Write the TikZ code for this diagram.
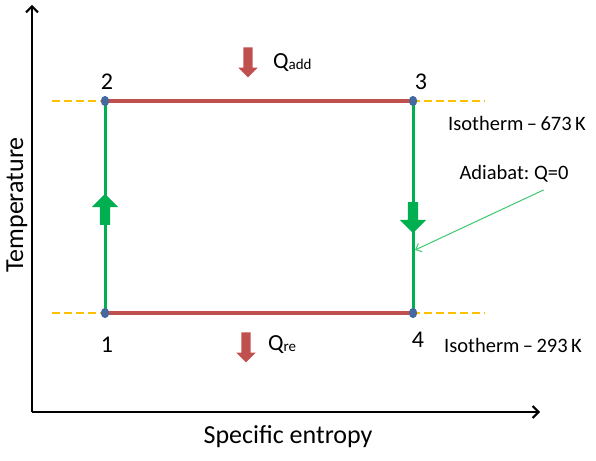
\documentclass[tikz,border=0pt]{standalone}
\usepackage{fontspec}
\setmainfont{Carlito}
\usepackage{tikz}
\usetikzlibrary{arrows.meta, positioning, shapes.arrows, shapes.geometric, calc}
\definecolor{cyclegreen}{RGB}{0,176,80}
\definecolor{heatred}{RGB}{192,80,77}
\definecolor{isogold}{RGB}{255,192,0}
\definecolor{pointblue}{RGB}{68,104,160}
\definecolor{notegreen}{RGB}{60,200,110}
\frenchspacing

\newcommand{\Qsub}[1]{Q\raisebox{-1.5pt}{\fontsize{15}{15}\selectfont #1}}

\begin{document}
\begin{tikzpicture}[x=1pt, y=-1pt,
    every node/.style={font=\fontsize{20.5}{22}\selectfont, inner sep=0pt},
    axis/.style={line width=2pt, -{Straight Barb[length=6pt, width=12pt, line width=2pt]}},
    isotherm/.style={isogold, line width=2.5pt, dash pattern=on 8pt off 4pt},
    heatline/.style={heatred, line width=4pt},
    adiabat/.style={cyclegreen, line width=3pt},
    statept/.style={ellipse, fill=pointblue, minimum width=8pt, minimum height=10pt},
    statenum/.style={font=\fontsize{24}{24}\selectfont, anchor=base},
    blockarrow/.style={single arrow, draw=none, inner xsep=0pt, single arrow tip angle=90},
    greenarrow/.style={blockarrow, fill=cyclegreen, minimum height=31pt, inner ysep=5pt, single arrow head extend=8pt},
    redarrow/.style={blockarrow, fill=heatred, minimum height=30pt, inner ysep=4.5pt, single arrow head extend=5pt}
]
\useasboundingbox (0,0) rectangle (596,460);

% axes
\coordinate (origin) at (32,412);
\draw[axis] (origin) -- (32,5);
\draw[axis] (origin) -- (540,412);
\node[font=\fontsize{26}{26}\selectfont, rotate=90, anchor=base] (tlabel) at (23,205) {Temperature};
\node[font=\fontsize{26}{26}\selectfont, anchor=base] (slabel) at (288,443) {Specific entropy};

% isotherms
\draw[isotherm] (52,101) -- (485,101);
\draw[isotherm] (52,313) -- (485,313);

% state points
\node[statept] (p1) at (105,313) {};
\node[statept] (p2) at (105,101) {};
\node[statept] (p3) at (413,101) {};
\node[statept] (p4) at (413,313) {};

% cycle
\draw[heatline] (p2.center) -- (p3.center);
\draw[heatline] (p1.center) -- (p4.center);
\draw[adiabat] (p1.center) -- (p2.center);
\draw[adiabat] (p3.center) -- (p4.center);
\foreach \p in {p1,p2,p3,p4}
    \fill[pointblue] (\p.center) ellipse (4pt and 5pt);

\node[statenum] (n1) at (107,352) {1};
\node[statenum] (n2) at (107,89) {2};
\node[statenum] (n3) at (421,89) {3};
\node[statenum] (n4) at (418,347) {4};

% direction arrows
\node[greenarrow, rotate=90] (up) at (105,212) {};
\node[greenarrow, rotate=-90] (down) at (413,215) {};
\node[redarrow, rotate=-90] (qin) at (248,60) {};
\node[redarrow, rotate=-90] (qout) at (246,345) {};

% heat labels
\node[anchor=base west, font=\fontsize{23}{23}\selectfont] (qadd) at (273,68) {\Qsub{add}};
\node[anchor=base west, font=\fontsize{23}{23}\selectfont] (qre) at (268,350) {\Qsub{re}};

% notes
\node[anchor=base] (iso1) at (517,130) {Isotherm\,–\,673\,K};
\node[anchor=base] (adnote) at (514,179) {Adiabat: Q=0};
\node[anchor=base] (iso2) at (513,352) {Isotherm\,–\,293\,K};
\coordinate (adtip) at (415,250);
\draw[notegreen, line width=1pt, -{Straight Barb[length=5pt, width=9pt]}] ($(adnote.south east)+(-25,8)$) -- (adtip);
\end{tikzpicture}
\end{document}
